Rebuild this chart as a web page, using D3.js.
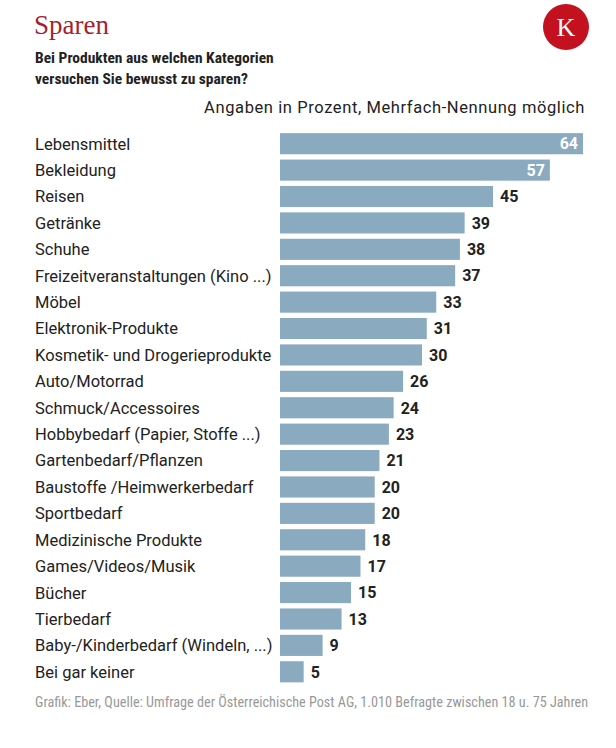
<!DOCTYPE html>
<html><head><meta charset="utf-8">
<script src="https://cdn.jsdelivr.net/npm/d3@7"></script>
<style>
body{margin:0;background:#fff;}
svg{display:block;}
</style></head>
<body><svg id="c" width="616" height="748"></svg>
<script>
const categories = ["Lebensmittel","Bekleidung","Reisen","Getränke","Schuhe","Freizeitveranstaltungen (Kino ...)","Möbel","Elektronik-Produkte","Kosmetik- und Drogerieprodukte","Auto/Motorrad","Schmuck/Accessoires","Hobbybedarf (Papier, Stoffe ...)","Gartenbedarf/Pflanzen","Baustoffe /Heimwerkerbedarf","Sportbedarf","Medizinische Produkte","Games/Videos/Musik","Bücher","Tierbedarf","Baby-/Kinderbedarf (Windeln, ...)","Bei gar keiner"];
const values = [64,57,45,39,38,37,33,31,30,26,24,23,21,20,20,18,17,15,13,9,5];

const cond = "'Roboto Condensed','Liberation Sans Narrow','DejaVu Sans Condensed',Roboto,sans-serif";
const reg = "Roboto,sans-serif";
const svg = d3.select("#c");

svg.append("text").attr("x",34).attr("y",34).text("Sparen")
  .attr("font-family","'Liberation Serif',serif").attr("font-size",27).attr("fill","#a81f2d");
svg.append("circle").attr("cx",566).attr("cy",27).attr("r",23).attr("fill","#c4111f");
svg.append("text").attr("x",566).attr("y",36).attr("text-anchor","middle").text("K")
  .attr("font-family","'Liberation Serif',serif").attr("font-size",26).attr("fill","#fff");

const sub = svg.append("text").attr("font-family",cond).attr("font-weight","bold").attr("font-size",15.5).attr("fill","#222");
sub.append("tspan").attr("x",35).attr("y",62.5).text("Bei Produkten aus welchen Kategorien");
sub.append("tspan").attr("x",35).attr("y",83.5).text("versuchen Sie bewusst zu sparen?");

svg.append("text").attr("x",585).attr("y",113).attr("text-anchor","end").text("Angaben in Prozent, Mehrfach-Nennung möglich")
  .attr("font-family",reg).attr("font-size",16.5).attr("letter-spacing",0.6).attr("fill","#222");

const x = d3.scaleLinear().domain([0,64]).range([280,583]);
const y = d3.scaleBand().domain(categories).range([130.5,685]).paddingInner(0.2).paddingOuter(0.1);

const g = svg.append("g");
const rows = g.selectAll("g.row").data(categories).join("g");
rows.append("rect").attr("x",x(0)).attr("y",d=>y(d)).attr("height",y.bandwidth())
  .attr("width",(d,i)=>x(values[i])-x(0)).attr("fill","#8aaabf");
rows.append("text").attr("x",35).attr("y",d=>y(d)+y.bandwidth()/2).attr("dy","0.36em").text(d=>d)
  .attr("font-family",reg).attr("font-size",16.5).attr("fill","#222");
rows.append("text")
  .attr("x",(d,i)=>values[i]>=50 ? x(values[i])-5 : x(values[i])+7)
  .attr("text-anchor",(d,i)=>values[i]>=50?"end":"start")
  .attr("y",d=>y(d)+y.bandwidth()/2).attr("dy","0.36em").text((d,i)=>values[i])
  .attr("font-family",reg).attr("font-weight","bold").attr("font-size",16)
  .attr("fill",(d,i)=>values[i]>=50?"#fff":"#222");

svg.append("text").attr("x",35).attr("y",707).text("Grafik: Eber, Quelle: Umfrage der Österreichische Post AG, 1.010 Befragte zwischen 18 u. 75 Jahren")
  .attr("font-family",cond).attr("font-size",14.2).attr("fill","#999");
</script></body></html>
